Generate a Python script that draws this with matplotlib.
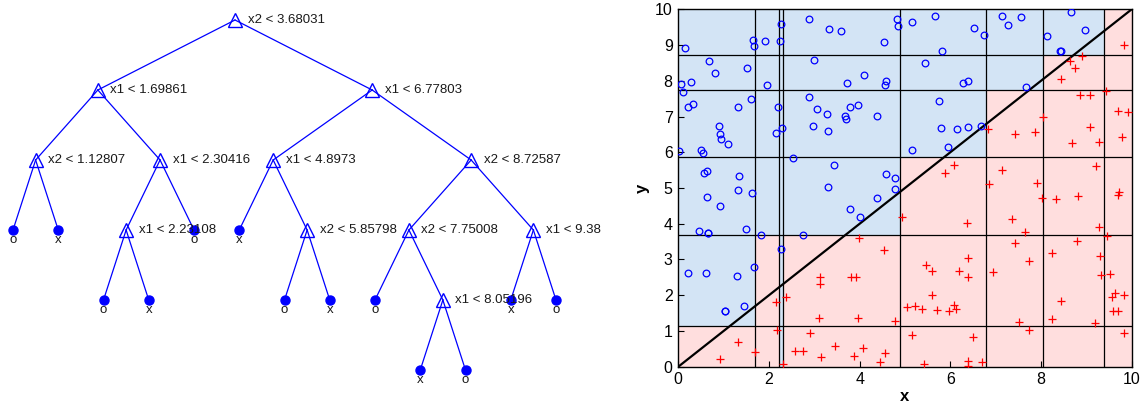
import numpy as np
import matplotlib
matplotlib.use('Agg')
import matplotlib.pyplot as plt

plt.rcParams['font.family'] = ['Liberation Sans', 'DejaVu Sans']

# classification tree, nodes in depth-first order (0 = no child)
split_var = [2, 1, 2, 0, 0, 1, 1, 0, 0, 0, 1, 1, 0, 2, 0, 0, 2, 2, 0, 1, 0, 0, 1, 0, 0]
split_cut = [3.68031, 1.69861, 1.12807, 0, 0, 2.30416, 2.23108, 0, 0, 0,
             6.77803, 4.8973, 0, 5.85798, 0, 0, 8.72587, 7.75008, 0, 8.05196, 0, 0, 9.38, 0, 0]
left_child = [1, 2, 3, 0, 0, 6, 7, 0, 0, 0, 11, 12, 0, 14, 0, 0, 17, 18, 0, 20, 0, 0, 23, 0, 0]
right_child = [10, 5, 4, 0, 0, 9, 8, 0, 0, 0, 16, 13, 0, 15, 0, 0, 22, 19, 0, 21, 0, 0, 24, 0, 0]
leaf_class = ['', '', '', 'o', 'x', '', '', 'o', 'x', 'o', '', '', 'x', '', 'o', 'x',
              '', '', 'o', '', 'x', 'o', '', 'x', 'o']

# samples: circles above the diagonal, crosses below
o_x = [0.15, 0.68, 0.82, 1.51, 0.06, 0.27, 0.11, 0.22, 0.32, 1.31, 1.61, 1.95, 1.64, 1.68,
       1.92, 2.24, 2.27, 2.88, 3.33, 3.58, 4.54, 2.99, 3.71, 4.09, 4.57, 4.56, 2.89, 3.06,
       3.29, 2.97, 3.31, 3.78, 3.97, 3.68, 3.70, 4.39, 2.19, 2.16, 2.29, 0.90, 0.92, 0.95,
       1.09, 0.02, 0.49, 0.54, 2.52, 3.43, 0.57, 0.64, 1.34, 1.31, 1.63, 3.31, 4.57, 0.63,
       4.38,
       4.83, 4.85, 5.15, 5.67, 6.52, 6.75, 7.13, 7.28, 7.56, 8.66, 8.96, 8.13, 5.82, 5.45,
       6.29, 6.40, 8.42, 8.44, 7.67, 5.74, 5.79, 6.15, 6.40, 6.68, 5.94, 5.15, 4.78, 4.79,
       0.92, 0.46, 0.65, 0.66, 1.50, 1.83, 2.76, 2.27, 1.68, 0.22, 0.60, 1.29, 1.44, 1.02,
       1.03, 3.78, 4.00]
o_y = [8.91, 8.54, 8.22, 8.35, 7.90, 7.97, 7.69, 7.28, 7.34, 7.26, 7.49, 7.87, 9.13, 8.98,
       9.11, 9.10, 9.60, 9.73, 9.46, 9.38, 9.08, 8.57, 7.93, 8.17, 7.99, 7.89, 7.55, 7.21,
       7.07, 6.74, 6.59, 7.28, 7.32, 7.01, 6.93, 7.02, 7.26, 6.53, 6.68, 6.74, 6.52, 6.38,
       6.23, 6.04, 6.06, 5.99, 5.85, 5.63, 5.43, 5.47, 5.34, 4.95, 4.86, 5.04, 5.38, 4.76,
       4.73,
       9.72, 9.54, 9.64, 9.82, 9.48, 9.28, 9.80, 9.56, 9.78, 9.93, 9.43, 9.26, 8.82, 8.50,
       7.94, 8.00, 8.84, 8.82, 7.82, 7.44, 6.68, 6.64, 6.71, 6.74, 6.16, 6.05, 5.27, 4.97,
       4.51, 3.80, 3.75, 3.73, 3.84, 3.69, 3.69, 3.28, 2.79, 2.63, 2.63, 2.54, 1.71, 1.57,
       1.56, 4.41, 4.20]
p_x = [9.83, 8.64, 8.90, 8.76, 8.43, 8.87, 9.07, 9.43, 9.70, 9.92, 8.05, 9.07, 6.82, 7.43,
       7.87, 8.68, 9.27, 9.78, 6.09, 5.89, 7.15, 9.22, 6.85, 7.91,
       8.03, 8.33, 8.82, 9.70, 9.71, 4.94, 6.37, 7.37, 7.64, 9.28, 9.45, 4.54, 7.43, 8.79,
       8.24, 9.30, 5.46, 5.60, 6.40, 6.18, 6.38, 6.93, 7.73, 9.33, 9.52, 5.59, 5.05, 5.23,
       5.37, 5.70, 5.96, 6.09, 6.13, 8.43, 9.57, 9.63, 9.82, 9.58, 9.70, 4.78, 7.51, 8.24,
       9.18, 7.73, 9.82, 5.16, 6.51, 4.55, 4.45, 5.41, 6.40, 6.38, 6.69,
       3.98, 3.13, 3.13, 3.81, 3.92, 2.15, 2.38, 3.10, 3.96, 2.18, 2.91, 1.32, 1.70, 0.92,
       2.57, 2.74, 3.46, 4.07, 3.14, 3.87, 2.32]
p_y = [9.01, 8.54, 8.68, 8.35, 8.06, 7.61, 7.59, 7.71, 7.15, 7.13, 6.98, 6.70, 6.66, 6.50,
       6.57, 6.26, 6.28, 6.44, 5.65, 5.41, 5.50, 5.62, 5.10, 5.13,
       4.71, 4.68, 4.79, 4.80, 4.88, 4.18, 4.01, 4.12, 3.77, 3.90, 3.67, 3.26, 3.46, 3.51,
       3.18, 3.10, 2.84, 2.69, 3.04, 2.68, 2.50, 2.64, 2.96, 2.57, 2.60, 2.00, 1.68, 1.70,
       1.61, 1.59, 1.55, 1.74, 1.62, 1.84, 1.95, 2.05, 2.02, 1.56, 1.56, 1.29, 1.26, 1.34,
       1.21, 1.04, 0.95, 0.90, 0.83, 0.37, 0.12, 0.07, 0.15, 0.02, 0.12,
       3.59, 2.50, 2.30, 2.50, 2.50, 1.81, 1.94, 1.35, 1.35, 1.04, 0.95, 0.68, 0.41, 0.21,
       0.43, 0.43, 0.58, 0.51, 0.28, 0.31, 0.07]

region_color = {'o': '#ffdede', 'x': '#d3e4f5'}

# tree layout: leaves evenly spaced left to right, parents centred over children
n = len(split_var)
pos_x = np.zeros(n)
pos_y = np.zeros(n)
counter = [0]


def layout(i, depth):
    pos_y[i] = depth
    if left_child[i] == 0:
        pos_x[i] = counter[0]
        counter[0] += 1
        return
    layout(left_child[i], depth + 1)
    layout(right_child[i], depth + 1)
    pos_x[i] = (pos_x[left_child[i]] + pos_x[right_child[i]]) / 2


layout(0, 0)

fig = plt.figure(figsize=(11.42, 4.05), dpi=100)

# --- tree diagram ---
ax1 = fig.add_axes([0, 0, 640 / 1142, 1])
ax1.set_xlim(-13 / 45.25, -13 / 45.25 + 640 / 45.25)
ax1.set_ylim(-20 / 70 + 405 / 70, -20 / 70)
ax1.axis('off')

for i in range(n):
    if left_child[i]:
        for c in (left_child[i], right_child[i]):
            ax1.plot([pos_x[i], pos_x[c]], [pos_y[i], pos_y[c]], color='b', lw=0.9, zorder=1)
for i in range(n):
    if left_child[i]:
        ax1.plot(pos_x[i], pos_y[i], '^', ms=10.5, mfc='none', mec='b', mew=1.0, zorder=3)
        ax1.annotate(f'x{split_var[i]} < {split_cut[i]:g}', (pos_x[i], pos_y[i]),
                     xytext=(9, 0), textcoords='offset points', va='center', ha='left',
                     fontsize=9.5, color='#1a1a1a', zorder=4)
    else:
        ax1.plot(pos_x[i], pos_y[i], 'o', ms=6.5, mfc='b', mec='b', zorder=3)
        ax1.annotate(leaf_class[i], (pos_x[i], pos_y[i]), xytext=(0, -7),
                     textcoords='offset points', va='center', ha='center',
                     fontsize=9.5, color='#1a1a1a', zorder=4)

# --- partition of the feature space ---
ax2 = fig.add_axes([678.3 / 1142, (405 - 366.7) / 405, 453.4 / 1142, 357.4 / 405])


def shade(i, x0, x1, y0, y1):
    if left_child[i] == 0:
        ax2.fill([x0, x1, x1, x0], [y0, y0, y1, y1], color=region_color[leaf_class[i]],
                 lw=0, zorder=0)
        return
    c = split_cut[i]
    if split_var[i] == 1:
        shade(left_child[i], x0, c, y0, y1)
        shade(right_child[i], c, x1, y0, y1)
    else:
        shade(left_child[i], x0, x1, y0, c)
        shade(right_child[i], x0, x1, c, y1)


shade(0, 0, 10, 0, 10)
for i in range(n):
    if split_var[i] == 1:
        ax2.axvline(split_cut[i], color='k', lw=0.9, zorder=1)
    elif split_var[i] == 2:
        ax2.axhline(split_cut[i], color='k', lw=0.9, zorder=1)

ax2.plot(o_x, o_y, 'o', ms=4.8, mfc='none', mec='b', mew=0.9, zorder=3)
ax2.plot(p_x, p_y, '+', ms=5.5, mec='r', mew=0.9, zorder=3)
ax2.plot([0, 10], [0, 10], color='k', lw=1.6, zorder=2)

ax2.set_xlim(0, 10)
ax2.set_ylim(0, 10)
ax2.set_xticks(range(0, 11, 2))
ax2.set_yticks(range(0, 11))
ax2.tick_params(direction='in', length=4, labelsize=11.5, pad=4, width=0.8)
ax2.set_xlabel('x', fontsize=12, fontweight='bold', labelpad=1)
ax2.set_ylabel('y', fontsize=12, fontweight='bold', labelpad=4)
for s in ax2.spines.values():
    s.set_linewidth(1.0)

fig.savefig('out.png', dpi=100)
